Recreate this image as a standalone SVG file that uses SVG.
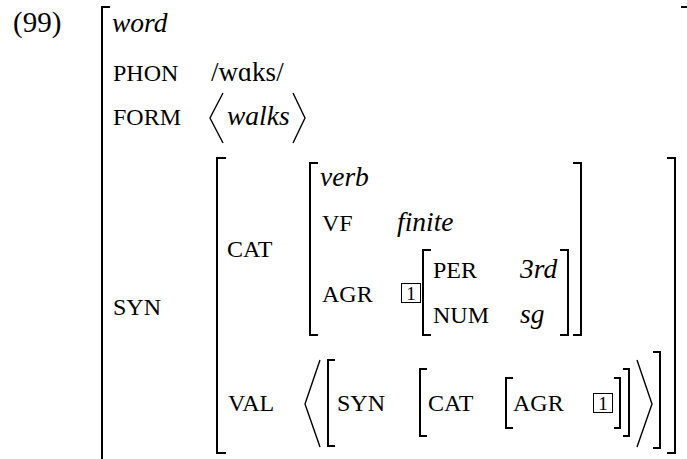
<svg xmlns="http://www.w3.org/2000/svg" width="687" height="459" viewBox="0 0 687 459">
<style>
.t{font-family:"Liberation Serif","Times New Roman",serif;fill:#000}
.n{font-size:29px}
.i{font-size:27.5px;font-style:italic}
.f{font-size:24px}
.r{font-size:27px}
.d{font-size:19px}
.br{fill:none;stroke:#000;stroke-width:2}
.ang{fill:none;stroke:#000;stroke-width:1.4}
.box{fill:none;stroke:#000;stroke-width:1}
</style>
<rect width="687" height="459" fill="#fff"/>
<text class="t n" x="13" y="32">(99)</text>
<g id="outer">
<path class="br" d="M110,7H102V470"/>
<path class="br" d="M681,7H689V470"/>
<text class="t i" x="112" y="32">word</text>
<text class="t f" x="113" y="81">PHON</text>
<text class="t r" x="211" y="81">/wɑks/</text>
<text class="t f" x="113" y="125">FORM</text>
<polyline class="ang" points="223,93 210,118 223,143"/>
<text class="t i" x="227" y="125">walks</text>
<polyline class="ang" points="293,93 305,118 293,143"/>
<text class="t f" x="113" y="315">SYN</text>
</g>
<g id="syn">
<path class="br" d="M226,158H217V453H226"/>
<path class="br" d="M667,158H675V453H667"/>
<text class="t f" x="227" y="257">CAT</text>
<text class="t f" x="228" y="411">VAL</text>
</g>
<g id="cat">
<path class="br" d="M318,163H310V335H318"/>
<path class="br" d="M573,163H581V335H573"/>
<text class="t i" x="320" y="186">verb</text>
<text class="t f" x="322" y="231">VF</text>
<text class="t i" x="397" y="231">finite</text>
<text class="t f" x="322" y="302">AGR</text>
<rect class="box" x="401.5" y="283.5" width="19" height="19"/>
<text class="t d" x="411" y="300" text-anchor="middle">1</text>
</g>
<g id="agr">
<path class="br" d="M431,250H423V335H431"/>
<path class="br" d="M560,250H568V335H560"/>
<text class="t f" x="433" y="278">PER</text>
<text class="t i" x="520" y="278">3rd</text>
<text class="t f" x="433" y="323">NUM</text>
<text class="t i" x="520" y="323">sg</text>
</g>
<g id="val">
<polyline class="ang" points="320,360 305,404 320,447"/>
<path class="br" d="M335,360H328V446H335"/>
<text class="t f" x="337" y="411">SYN</text>
<path class="br" d="M427,369H420V436H427"/>
<text class="t f" x="428" y="411">CAT</text>
<path class="br" d="M513,378H506V428H513"/>
<text class="t f" x="513" y="411">AGR</text>
<rect class="box" x="593.5" y="393.5" width="19" height="19"/>
<text class="t d" x="603" y="410" text-anchor="middle">1</text>
<path class="br" d="M614,378H620V428H614"/>
<path class="br" d="M623,369H629V436H623"/>
<polyline class="ang" points="637,360 652,404 637,447"/>
<path class="br" d="M653,352H660V448H653"/>
</g>
</svg>
